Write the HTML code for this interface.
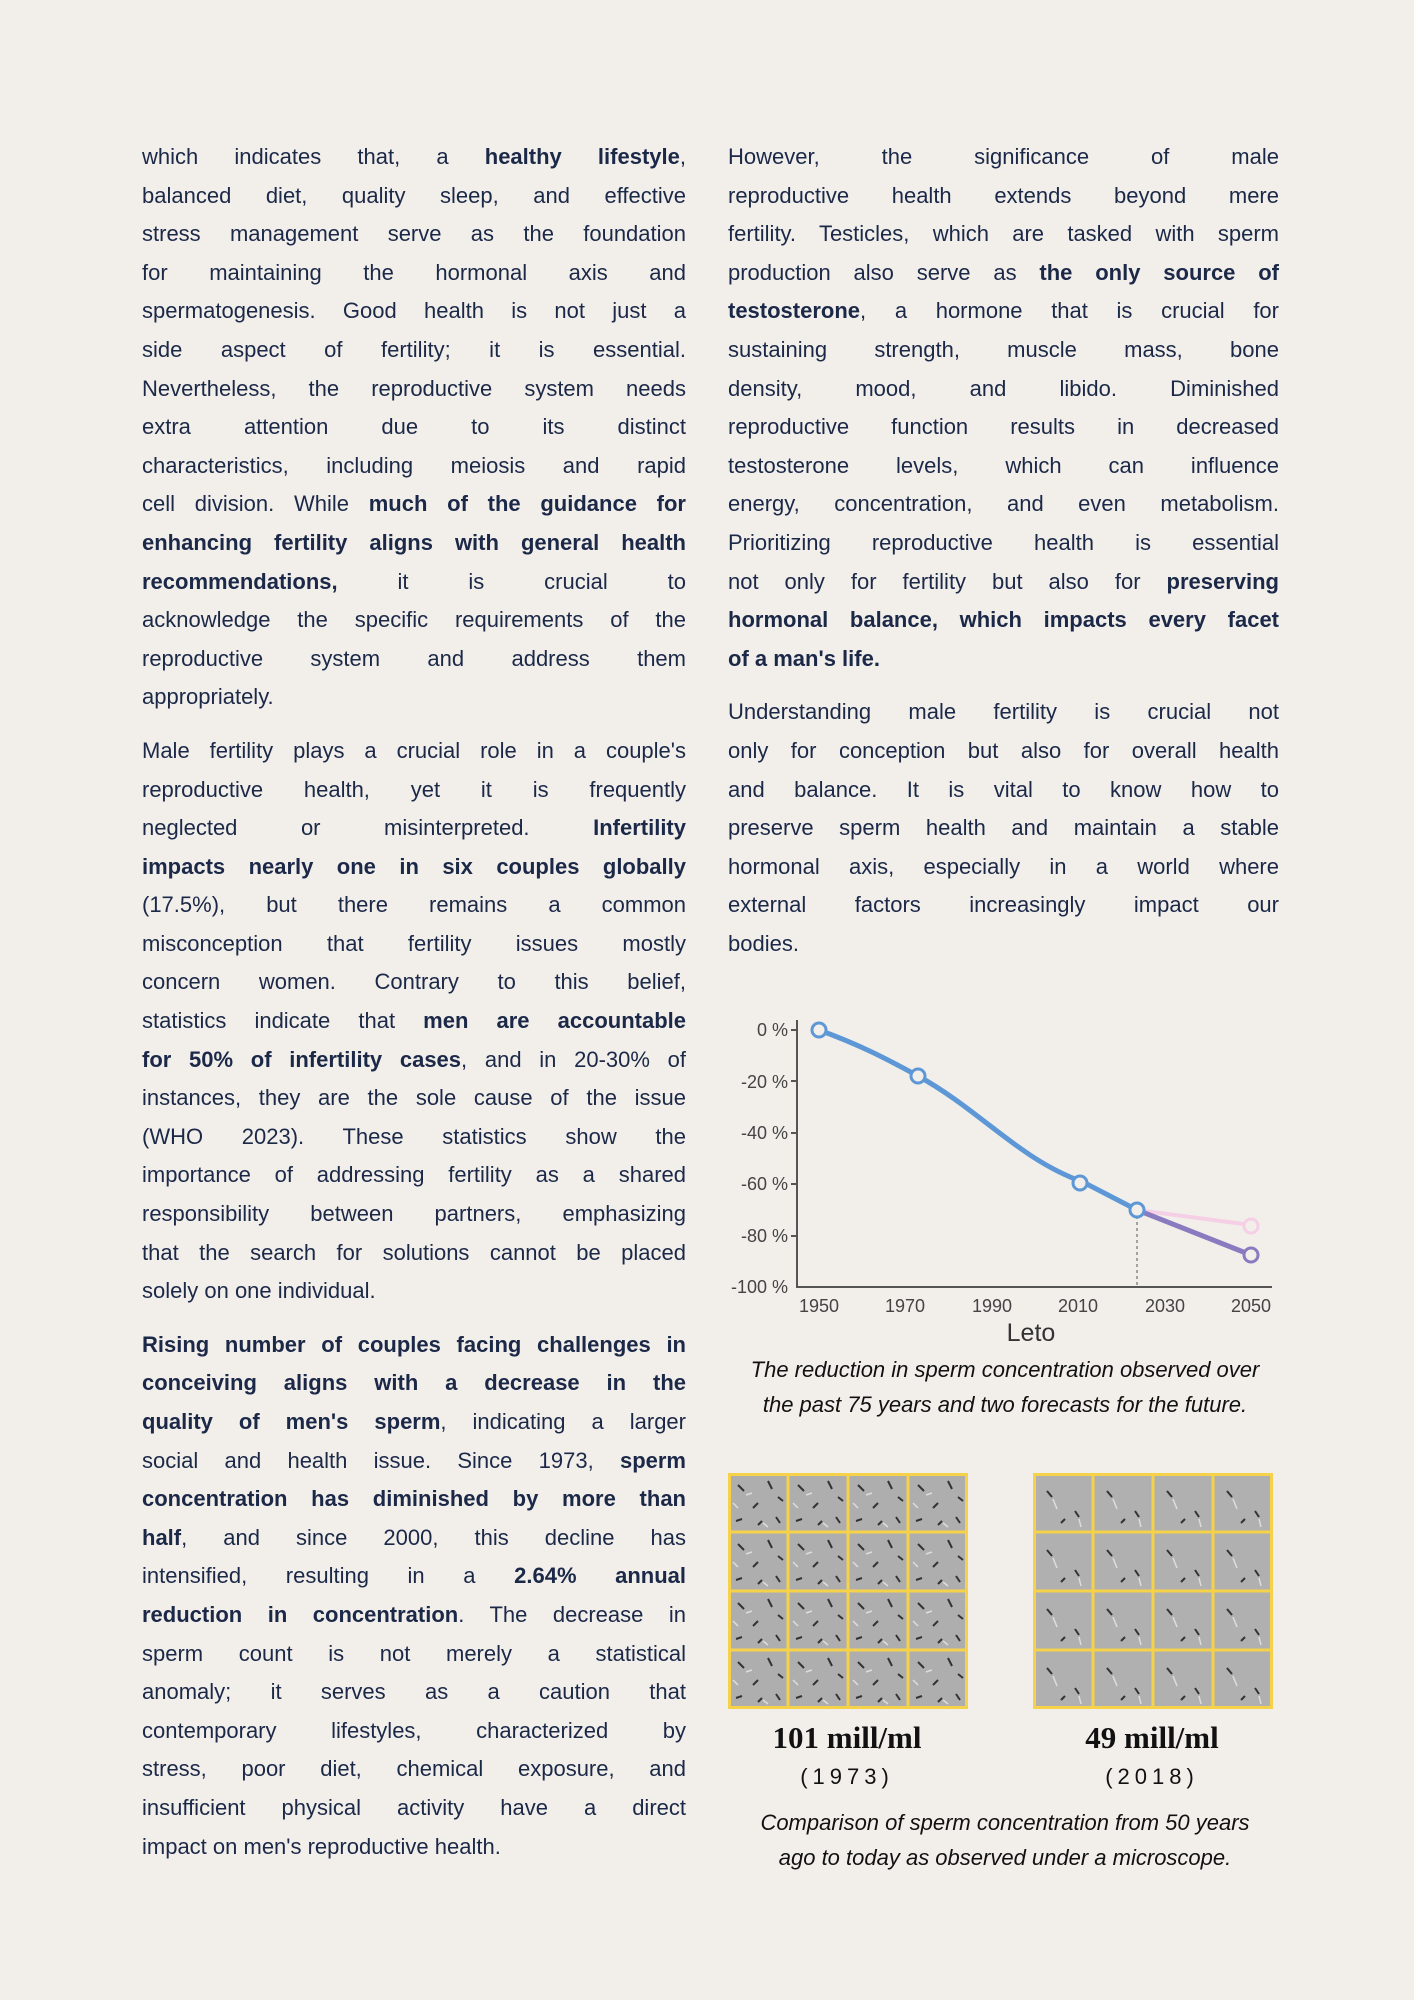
<!DOCTYPE html>
<html><head><meta charset="utf-8"><style>
html,body{margin:0;padding:0}
body{width:1414px;height:2000px;background:#f2efeb;position:relative;overflow:hidden;font-family:"Liberation Sans",sans-serif;color:#1b2847}
.col{position:absolute;width:544px;font-size:22px;line-height:38.6px}
.l{display:block;height:38.6px;white-space:nowrap;text-align:justify;text-align-last:justify}
.e{text-align-last:left}
b{font-weight:bold}
.cap{position:absolute;font-style:italic;font-size:22px;text-align:center;color:#111;width:560px}
.lab{position:absolute;font-family:"Liberation Serif",serif;font-weight:bold;font-size:31px;color:#111;text-align:center;width:300px}
.yr{position:absolute;font-size:22px;letter-spacing:5px;color:#111;text-align:center;width:300px}
</style></head><body>
<div class="col" style="left:142px;top:138px">
<span class="l">which indicates that, a <b>healthy lifestyle</b>,</span>
<span class="l">balanced diet, quality sleep, and effective</span>
<span class="l">stress management serve as the foundation</span>
<span class="l">for maintaining the hormonal axis and</span>
<span class="l">spermatogenesis. Good health is not just a</span>
<span class="l">side aspect of fertility; it is essential.</span>
<span class="l">Nevertheless, the reproductive system needs</span>
<span class="l">extra attention due to its distinct</span>
<span class="l">characteristics, including meiosis and rapid</span>
<span class="l">cell division. While <b>much of the guidance for</b></span>
<span class="l"><b>enhancing fertility aligns with general health</b></span>
<span class="l"><b>recommendations,</b> it is crucial to</span>
<span class="l">acknowledge the specific requirements of the</span>
<span class="l">reproductive system and address them</span>
<span class="l e">appropriately.</span>
<span class="l" style="margin-top:15px">Male fertility plays a crucial role in a couple's</span>
<span class="l">reproductive health, yet it is frequently</span>
<span class="l">neglected or misinterpreted. <b>Infertility</b></span>
<span class="l"><b>impacts nearly one in six couples globally</b></span>
<span class="l">(17.5%), but there remains a common</span>
<span class="l">misconception that fertility issues mostly</span>
<span class="l">concern women. Contrary to this belief,</span>
<span class="l">statistics indicate that <b>men are accountable</b></span>
<span class="l"><b>for 50% of infertility cases</b>, and in 20-30% of</span>
<span class="l">instances, they are the sole cause of the issue</span>
<span class="l">(WHO 2023). These statistics show the</span>
<span class="l">importance of addressing fertility as a shared</span>
<span class="l">responsibility between partners, emphasizing</span>
<span class="l">that the search for solutions cannot be placed</span>
<span class="l e">solely on one individual.</span>
<span class="l" style="margin-top:15px"><b>Rising number of couples facing challenges in</b></span>
<span class="l"><b>conceiving aligns with a decrease in the</b></span>
<span class="l"><b>quality of men's sperm</b>, indicating a larger</span>
<span class="l">social and health issue. Since 1973, <b>sperm</b></span>
<span class="l"><b>concentration has diminished by more than</b></span>
<span class="l"><b>half</b>, and since 2000, this decline has</span>
<span class="l">intensified, resulting in a <b>2.64% annual</b></span>
<span class="l"><b>reduction in concentration</b>. The decrease in</span>
<span class="l">sperm count is not merely a statistical</span>
<span class="l">anomaly; it serves as a caution that</span>
<span class="l">contemporary lifestyles, characterized by</span>
<span class="l">stress, poor diet, chemical exposure, and</span>
<span class="l">insufficient physical activity have a direct</span>
<span class="l e">impact on men's reproductive health.</span>
</div>
<div class="col" style="left:728px;top:138px;width:551px">
<span class="l">However, the significance of male</span>
<span class="l">reproductive health extends beyond mere</span>
<span class="l">fertility. Testicles, which are tasked with sperm</span>
<span class="l">production also serve as <b>the only source of</b></span>
<span class="l"><b>testosterone</b>, a hormone that is crucial for</span>
<span class="l">sustaining strength, muscle mass, bone</span>
<span class="l">density, mood, and libido. Diminished</span>
<span class="l">reproductive function results in decreased</span>
<span class="l">testosterone levels, which can influence</span>
<span class="l">energy, concentration, and even metabolism.</span>
<span class="l">Prioritizing reproductive health is essential</span>
<span class="l">not only for fertility but also for <b>preserving</b></span>
<span class="l"><b>hormonal balance, which impacts every facet</b></span>
<span class="l e"><b>of a man's life.</b></span>
<span class="l" style="margin-top:15px">Understanding male fertility is crucial not</span>
<span class="l">only for conception but also for overall health</span>
<span class="l">and balance. It is vital to know how to</span>
<span class="l">preserve sperm health and maintain a stable</span>
<span class="l">hormonal axis, especially in a world where</span>
<span class="l">external factors increasingly impact our</span>
<span class="l e">bodies.</span>
</div>
<svg style="position:absolute;left:0;top:0" width="1414" height="2000">
<g font-family="Liberation Sans,sans-serif" font-size="18" fill="#444" text-anchor="end">
<text x="788" y="1036">0 %</text><text x="788" y="1088">-20 %</text><text x="788" y="1139">-40 %</text>
<text x="788" y="1190">-60 %</text><text x="788" y="1242">-80 %</text><text x="788" y="1293">-100 %</text>
</g>
<g stroke="#555" stroke-width="2"><line x1="797" y1="1020" x2="797" y2="1288"/><line x1="796" y1="1287" x2="1272" y2="1287"/>
<line x1="791" y1="1030" x2="797" y2="1030"/><line x1="791" y1="1081" x2="797" y2="1081"/><line x1="791" y1="1133" x2="797" y2="1133"/><line x1="791" y1="1184" x2="797" y2="1184"/><line x1="791" y1="1236" x2="797" y2="1236"/></g>
<g font-family="Liberation Sans,sans-serif" font-size="18" fill="#444" text-anchor="middle">
<text x="819" y="1312">1950</text><text x="905" y="1312">1970</text><text x="992" y="1312">1990</text><text x="1078" y="1312">2010</text><text x="1165" y="1312">2030</text><text x="1251" y="1312">2050</text>
<text x="1031" y="1341" font-size="25" fill="#333">Leto</text></g>
<line x1="1137" y1="1210" x2="1137" y2="1287" stroke="#555" stroke-width="1" stroke-dasharray="3,3"/>
<path d="M1137 1210 L1251 1225" stroke="#f5cfe6" stroke-width="4" fill="none"/>
<path d="M1137 1210 L1251 1255" stroke="#8a7bc0" stroke-width="5" fill="none"/>
<path d="M819 1030 C860 1045 885 1058 918 1076 C980 1110 1020 1160 1083 1182 L1137 1210" stroke="#5d97d6" stroke-width="5" fill="none"/>
<g fill="#f2efeb" stroke-width="3"><circle cx="819" cy="1030" r="7" stroke="#5d97d6"/><circle cx="918" cy="1076" r="7" stroke="#5d97d6"/><circle cx="1080" cy="1183" r="7" stroke="#5d97d6"/><circle cx="1137" cy="1210" r="7" stroke="#5d97d6"/><circle cx="1251" cy="1226" r="7" stroke="#f5cfe6"/><circle cx="1251" cy="1255" r="7" stroke="#8a7bc0"/></g>
<defs>
<pattern id="p" width="60" height="59" patternUnits="userSpaceOnUse"><rect width="60" height="59" fill="#aeaeae"/><g stroke="#333" stroke-width="2"><line x1="10" y1="12" x2="16" y2="18"/><line x1="40" y1="8" x2="44" y2="16"/><line x1="25" y1="35" x2="30" y2="30"/><line x1="48" y1="44" x2="52" y2="50"/><line x1="8" y1="48" x2="14" y2="46"/><line x1="50" y1="24" x2="55" y2="28"/><line x1="30" y1="52" x2="34" y2="48"/></g><g stroke="#ddd" stroke-width="1.5"><line x1="18" y1="22" x2="24" y2="20"/><line x1="35" y1="50" x2="40" y2="54"/><line x1="5" y1="30" x2="10" y2="35"/></g></pattern>
<pattern id="q" width="60" height="59" patternUnits="userSpaceOnUse"><rect width="60" height="59" fill="#b0b0b0"/><g stroke="#333" stroke-width="2"><line x1="14" y1="18" x2="19" y2="24"/><line x1="42" y1="38" x2="46" y2="44"/><line x1="28" y1="50" x2="32" y2="46"/></g><g stroke="#ddd" stroke-width="1.5"><line x1="20" y1="26" x2="24" y2="36"/><line x1="46" y1="46" x2="48" y2="54"/></g></pattern>
</defs>
</svg>
<svg style="position:absolute;left:728px;top:1473px" width="240" height="236"><rect width="240" height="236" fill="url(#p)"/><g stroke="#f5d24a" stroke-width="3" fill="none"><rect x="1.5" y="1.5" width="237" height="233"/><line x1="60" y1="0" x2="60" y2="236"/><line x1="120" y1="0" x2="120" y2="236"/><line x1="180" y1="0" x2="180" y2="236"/><line x1="0" y1="59" x2="240" y2="59"/><line x1="0" y1="118" x2="240" y2="118"/><line x1="0" y1="177" x2="240" y2="177"/></g></svg>
<svg style="position:absolute;left:1033px;top:1473px" width="240" height="236"><rect width="240" height="236" fill="url(#q)"/><g stroke="#f5d24a" stroke-width="3" fill="none"><rect x="1.5" y="1.5" width="237" height="233"/><line x1="60" y1="0" x2="60" y2="236"/><line x1="120" y1="0" x2="120" y2="236"/><line x1="180" y1="0" x2="180" y2="236"/><line x1="0" y1="59" x2="240" y2="59"/><line x1="0" y1="118" x2="240" y2="118"/><line x1="0" y1="177" x2="240" y2="177"/></g></svg>
<div class="lab" style="left:697px;top:1720px">101 mill/ml</div>
<div class="lab" style="left:1002px;top:1720px">49 mill/ml</div>
<div class="yr" style="left:697px;top:1764px">(1973)</div>
<div class="yr" style="left:1002px;top:1764px">(2018)</div>
<div class="cap" style="left:725px;top:1352px;line-height:35px">The reduction in sperm concentration observed over<br>the past 75 years and two forecasts for the future.</div>
<div class="cap" style="left:725px;top:1805px;line-height:35px">Comparison of sperm concentration from 50 years<br>ago to today as observed under a microscope.</div>
</body></html>
